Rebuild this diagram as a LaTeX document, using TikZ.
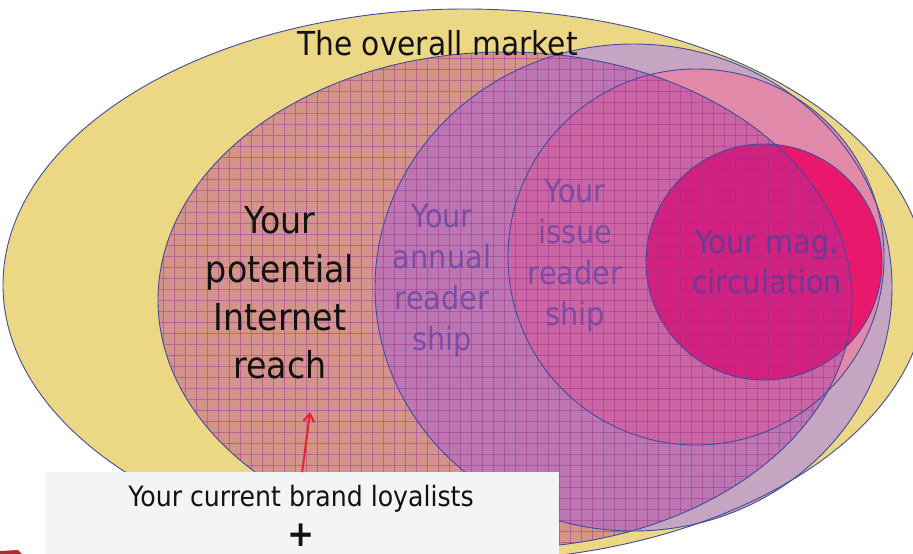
\documentclass[tikz,border=0pt]{standalone}
\usepackage{fontspec}
\setmainfont{DejaVu Sans}[FakeStretch=0.9]
\usetikzlibrary{arrows.meta}
\definecolor{mkt}{HTML}{EBD784}
\definecolor{lav}{HTML}{C5A5C1}
\definecolor{pnk}{HTML}{E089A9}
\definecolor{magc}{HTML}{EA186C}
\definecolor{hatch}{HTML}{B0309A}
\definecolor{gridc}{HTML}{A02A94}
\definecolor{edgec}{HTML}{3F4C9C}
\definecolor{lblc}{HTML}{6E48A6}
\definecolor{maglblc}{HTML}{6A3A94}
\definecolor{boxc}{HTML}{F3F4F6}
\definecolor{arrc}{HTML}{E8232B}
\definecolor{logoc}{HTML}{B02A2A}
\begin{document}
\begin{tikzpicture}[x=1pt,y=-1pt,
  outl/.style={draw=edgec, line width=0.9pt},
  bigtxt/.style={anchor=base, text=black!93, font=\fontsize{37}{44}\selectfont, inner sep=0pt},
  midtxt/.style={anchor=base, text=lblc, text opacity=0.85, font=\fontsize{32}{38}\selectfont, inner sep=0pt},
  magtxt/.style={anchor=base, text=maglblc, font=\fontsize{32}{38}\selectfont, inner sep=0pt},
  mkttxt/.style={anchor=base, text=black!93, font=\fontsize{33}{40}\selectfont, inner sep=0pt},
  boxtxt/.style={anchor=base, text=black!93, font=\fontsize{28}{34}\selectfont, inner sep=0pt},
  gridline/.style={draw=gridc, line width=0.7pt, opacity=0.45}]
\clip (0,0) rectangle (913,554);
% filled regions
\fill[mkt] (465,285) ellipse [x radius=462, y radius=276];
\fill[lav] (633.5,287.5) ellipse [x radius=258.5, y radius=243.5];
\fill[pnk] (696,257) circle [radius=188];
\fill[magc] (764,262) circle [radius=118];
% cross-hatched overlay: potential Internet reach
\fill[hatch, fill opacity=0.4] (505,300) ellipse [x radius=347, y radius=248];
\begin{scope}
  \clip (505,300) ellipse [x radius=347, y radius=248];
  \foreach \gx in {152,163,...,860} \draw[gridline] (\gx,40) -- (\gx,560);
  \foreach \gy in {47,58,...,560} \draw[gridline] (150,\gy) -- (860,\gy);
\end{scope}
% outlines
\draw[outl] (465,285) ellipse [x radius=462, y radius=276];
\draw[outl] (633.5,287.5) ellipse [x radius=258.5, y radius=243.5];
\draw[outl] (696,257) circle [radius=188];
\draw[outl] (764,262) circle [radius=118];
\draw[outl] (505,300) ellipse [x radius=347, y radius=248];
% labels
\node[mkttxt] (market) at (437.5,55) {The overall market};
\node[bigtxt] (inet1) at (280,233) {Your};
\node[bigtxt] (inet2) at (280,282) {potential};
\node[bigtxt] (inet3) at (280,330) {Internet};
\node[bigtxt] (inet4) at (280,378) {reach};
\node[midtxt] (ann1) at (442,227) {Your};
\node[midtxt] (ann2) at (442,268) {annual};
\node[midtxt] (ann3) at (442,309) {reader};
\node[midtxt] (ann4) at (442,350) {ship};
\node[midtxt] (iss1) at (575,202) {Your};
\node[midtxt] (iss2) at (575,243) {issue};
\node[midtxt] (iss3) at (575,284) {reader};
\node[midtxt] (iss4) at (575,325) {ship};
\node[magtxt] (mag1) at (767,253) {Your mag.};
\node[magtxt] (mag2) at (767,293) {circulation};
% box
\node[fill=boxc, minimum width=514pt, minimum height=100pt, anchor=north west, inner sep=0pt] (box) at (45,472) {};
\node[boxtxt] (loyal) at (301,506) {Your current brand loyalists};
\node[anchor=base, inner sep=0pt, font=\bfseries\fontsize{36}{36}\selectfont, text=black!93] (plus) at (301,546) {+};
% arrow
\coordinate (tip) at (310,412);
\draw[arrc, line width=2pt, -{Straight Barb[length=8pt,width=11pt]}] (box.north) -- (tip);
% cut-off red fragment at bottom-left
\fill[logoc] (0,551) -- (18,550) -- (22,554) -- (0,554) -- cycle;
\end{tikzpicture}
\end{document}
